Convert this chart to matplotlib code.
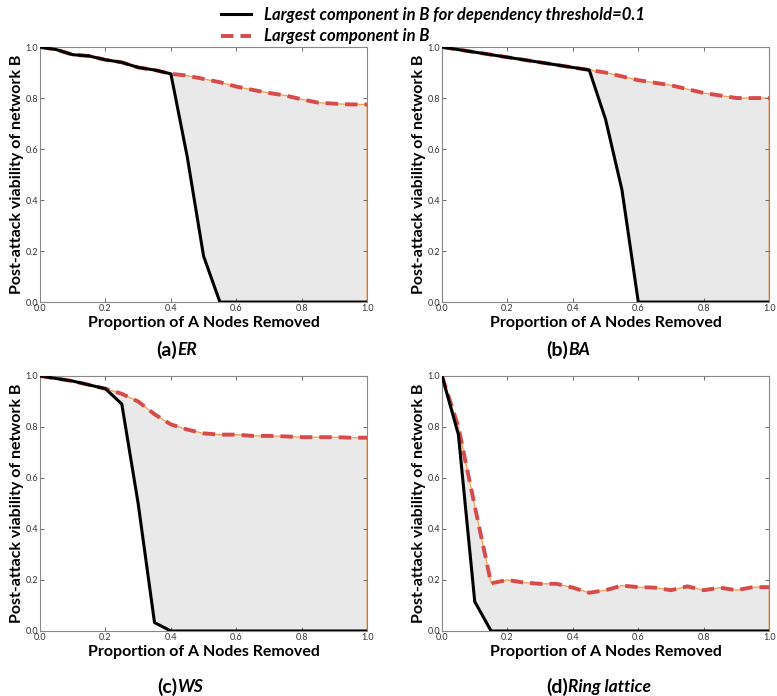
import numpy as np
import matplotlib
matplotlib.use("Agg")
import matplotlib.pyplot as plt

plt.rcParams['font.family'] = ['Lato', 'DejaVu Sans']

# removal proportion (steps of 0.05)
x = [round(0.05 * i, 2) for i in range(21)]

# (a) ER
er_red = [1.0, 0.99, 0.97, 0.965, 0.95, 0.94, 0.92, 0.91, 0.895, 0.888, 0.875,
          0.862, 0.845, 0.832, 0.82, 0.81, 0.795, 0.782, 0.778, 0.775, 0.775]
er_black = [1.0, 0.99, 0.97, 0.965, 0.95, 0.94, 0.92, 0.91, 0.895, 0.57, 0.18,
            0.0, 0.0, 0.0, 0.0, 0.0, 0.0, 0.0, 0.0, 0.0, 0.0]

# (b) BA
ba_red = [1.0, 0.99, 0.98, 0.97, 0.96, 0.95, 0.94, 0.93, 0.92, 0.91, 0.9,
          0.885, 0.87, 0.86, 0.85, 0.835, 0.82, 0.81, 0.80, 0.80, 0.80]
ba_black = [1.0, 0.99, 0.98, 0.97, 0.96, 0.95, 0.94, 0.93, 0.92, 0.91, 0.716,
            0.44, 0.0, 0.0, 0.0, 0.0, 0.0, 0.0, 0.0, 0.0, 0.0]

# (c) WS
ws_red = [1.0, 0.99, 0.98, 0.965, 0.95, 0.93, 0.90, 0.85, 0.81, 0.79, 0.775,
          0.77, 0.77, 0.765, 0.765, 0.763, 0.76, 0.76, 0.76, 0.758, 0.758]
ws_black = [1.0, 0.99, 0.98, 0.965, 0.95, 0.89, 0.50, 0.033, 0.0, 0.0, 0.0,
            0.0, 0.0, 0.0, 0.0, 0.0, 0.0, 0.0, 0.0, 0.0, 0.0]

# (d) Ring lattice
ring_red = [1.0, 0.80, 0.49, 0.187, 0.20, 0.19, 0.185, 0.185, 0.17, 0.15, 0.16,
            0.178, 0.172, 0.17, 0.16, 0.175, 0.16, 0.17, 0.16, 0.172, 0.172]
ring_black = [1.0, 0.77, 0.115, 0.0, 0.0, 0.0, 0.0, 0.0, 0.0, 0.0, 0.0,
              0.0, 0.0, 0.0, 0.0, 0.0, 0.0, 0.0, 0.0, 0.0, 0.0]

panels = [
    ("(a)", "ER", er_black, er_red),
    ("(b)", "BA", ba_black, ba_red),
    ("(c)", "WS", ws_black, ws_red),
    ("(d)", "Ring lattice", ring_black, ring_red),
]

legend_labels = ["Largest component in B for dependency threshold=0.1",
                 "Largest component in B"]

fig = plt.figure(figsize=(7.77, 6.96), dpi=100)
lefts = [0.0515, 0.5689]
bottoms = [0.566, 0.0934]
caption_y = [1 - 350 / 696, 1 - 687 / 696]
caption_x = [177 / 777, 568 / 777]
w, h = 0.421, 0.3664

for i, (tag, name, black, red) in enumerate(panels):
    ax = fig.add_axes([lefts[i % 2], bottoms[i // 2], w, h])
    ax.fill_between(x, black, red, facecolor='#e9e9e9', edgecolor='none', zorder=1)
    ax.fill_between(x, black, red, facecolor='none', edgecolor='#f0a050',
                    linewidth=0.9, zorder=1.5)
    l1, = ax.plot(x, black, color='black', lw=2.2, zorder=3,
                  label=legend_labels[0])
    l2, = ax.plot(x, red, color='#d64b4b', lw=2.8, ls=(0, (3.2, 1.8)),
                  zorder=2, label=legend_labels[1])
    ax.set_xlim(0, 1)
    ax.set_ylim(0, 1)
    ticks = np.arange(0, 1.01, 0.2)
    ax.set_xticks(ticks)
    ax.set_yticks(ticks)
    ax.set_xticklabels([f"{t:.1f}" for t in ticks])
    ax.set_yticklabels([f"{t:.1f}" for t in ticks])
    ax.tick_params(direction='in', top=True, right=True, length=3, width=0.6,
                   labelsize=6.5, labelcolor='#333333', color='#555555', pad=1.5)
    for s in ax.spines.values():
        s.set_color('#888888')
        s.set_linewidth(0.8)
    ax.set_xlabel("Proportion of A Nodes Removed", fontsize=11.5,
                  fontweight='bold', labelpad=2)
    ax.set_ylabel("Post-attack viability of network B", fontsize=11.5,
                  fontweight='bold', labelpad=1)
    cx = caption_x[i % 2]
    cy = caption_y[i // 2]
    fig.text(cx, cy, tag, fontsize=14, fontweight='bold', ha='right', va='center')
    fig.text(cx, cy, name, fontsize=12.5, fontweight='bold', style='italic',
             ha='left', va='center')

leg = fig.legend([l1, l2], legend_labels, loc='upper center',
                 bbox_to_anchor=(0.557, 1.012), frameon=False, handlelength=1.8,
                 labelspacing=0.35, handletextpad=0.8,
                 prop={'weight': 'bold', 'style': 'italic', 'size': 12})

plt.savefig("out.png", dpi=100)
